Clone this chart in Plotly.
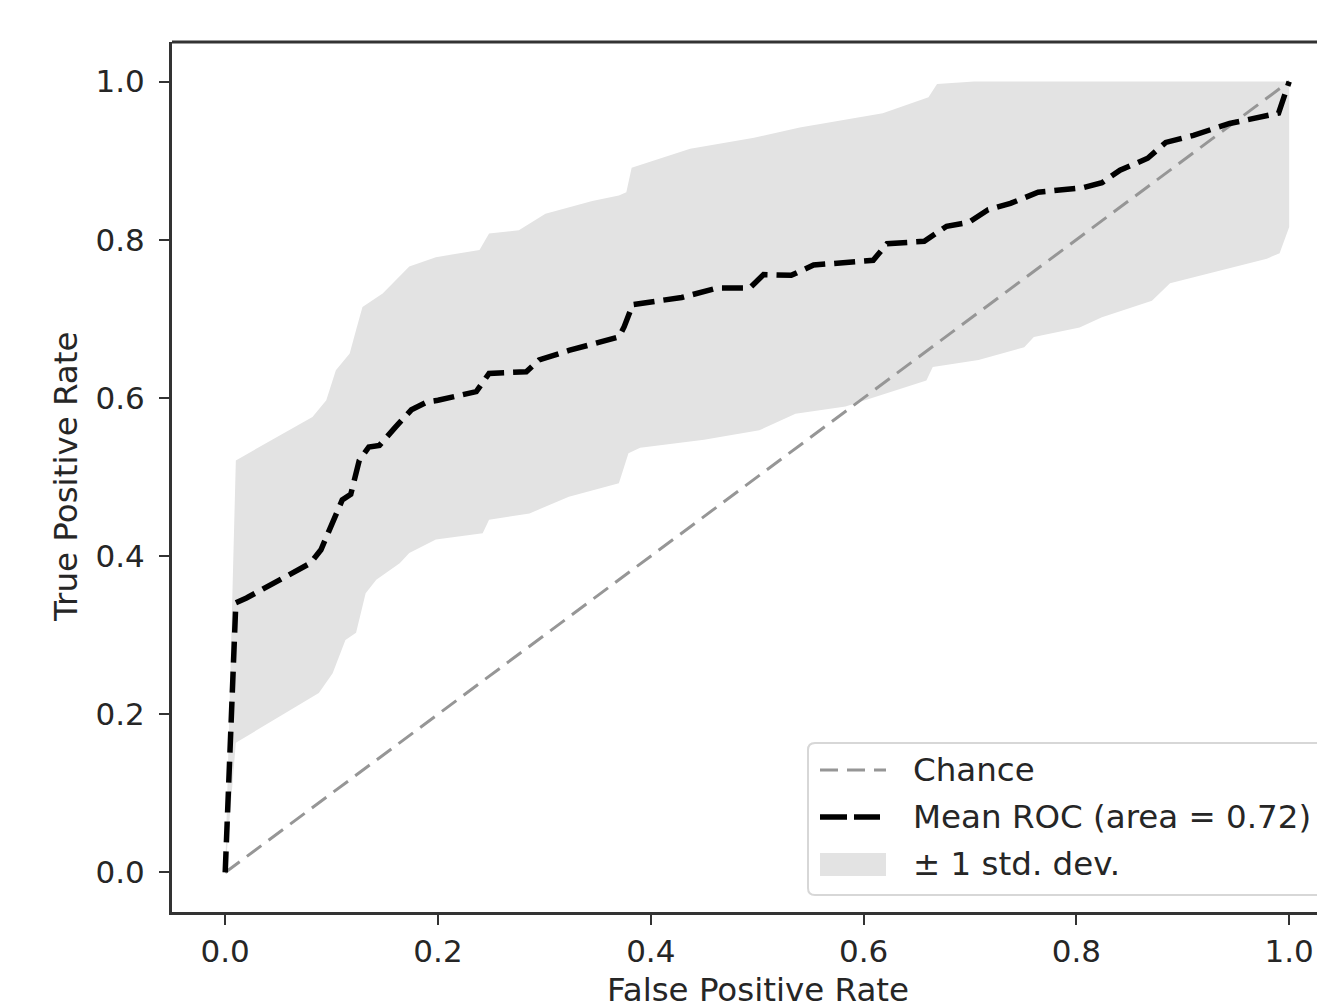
import plotly.graph_objects as go

# ---------------- data ----------------
mean_fpr = [0.0, 0.01, 0.02, 0.05, 0.08, 0.09, 0.10, 0.11, 0.118, 0.126, 0.135, 0.145,
            0.16, 0.175, 0.19, 0.20, 0.236, 0.248, 0.283, 0.295, 0.323, 0.355, 0.37,
            0.375, 0.383, 0.429, 0.463, 0.493, 0.506, 0.532, 0.553, 0.609, 0.622,
            0.657, 0.678, 0.699, 0.717, 0.738, 0.764, 0.807, 0.824, 0.841, 0.867,
            0.884, 0.910, 0.944, 0.990, 1.0]
mean_tpr = [0.0, 0.341, 0.347, 0.370, 0.391, 0.408, 0.440, 0.471, 0.478, 0.521, 0.538, 0.540,
            0.563, 0.585, 0.595, 0.597, 0.608, 0.631, 0.633, 0.648, 0.660, 0.671, 0.677,
            0.690, 0.718, 0.727, 0.739, 0.739, 0.756, 0.755, 0.768, 0.774, 0.795,
            0.798, 0.817, 0.822, 0.838, 0.846, 0.860, 0.866, 0.872, 0.888, 0.903,
            0.923, 0.932, 0.947, 0.960, 1.0]

upper_fpr = [0.0, 0.01, 0.082, 0.095, 0.104, 0.117, 0.123, 0.129, 0.148, 0.167, 0.173,
             0.198, 0.239, 0.248, 0.276, 0.301, 0.323, 0.345, 0.370, 0.377, 0.382,
             0.403, 0.437, 0.497, 0.540, 0.618, 0.661, 0.669, 0.704, 1.0]
upper_tpr = [0.0, 0.521, 0.576, 0.597, 0.635, 0.656, 0.686, 0.715, 0.732, 0.758, 0.766,
             0.778, 0.787, 0.808, 0.812, 0.833, 0.841, 0.849, 0.856, 0.860, 0.891,
             0.900, 0.915, 0.929, 0.942, 0.960, 0.980, 0.997, 1.0, 1.0]

lower_fpr = [0.0, 0.01, 0.088, 0.101, 0.113, 0.123, 0.132, 0.142, 0.164, 0.173, 0.198,
             0.242, 0.248, 0.286, 0.323, 0.370, 0.379, 0.390, 0.450, 0.502, 0.536,
             0.583, 0.622, 0.659, 0.665, 0.708, 0.751, 0.760, 0.803, 0.824, 0.871,
             0.888, 0.979, 0.991, 1.0, 1.0]
lower_tpr = [0.0, 0.164, 0.227, 0.252, 0.294, 0.303, 0.353, 0.370, 0.391, 0.404, 0.421,
             0.429, 0.446, 0.454, 0.475, 0.492, 0.530, 0.537, 0.547, 0.559, 0.580,
             0.589, 0.606, 0.622, 0.639, 0.648, 0.664, 0.677, 0.689, 0.702, 0.723,
             0.745, 0.776, 0.783, 0.816, 1.0]

chance_fpr = [0.0, 1.0]
chance_tpr = [0.0, 1.0]

tick_vals = [0.0, 0.2, 0.4, 0.6, 0.8, 1.0]
tick_text = ["0.0", "0.2", "0.4", "0.6", "0.8", "1.0"]

legend_labels = ["Chance", "Mean ROC (area = 0.72)", "± 1 std. dev."]
x_title = "False Positive Rate"
y_title = "True Positive Rate"

# ---------------- layout geometry ----------------
W, H = 1317, 1008
L, T, B, R = 172, 42, 96, 0
PW = W - L - R
PH = H - T - B
FONT = "DejaVu Sans"
FS_TICK = 31
FS = 32.5
TXT = "#262626"
BAND = "rgb(227,227,227)"
CHANCE = "rgb(150,150,150)"


def px_x(p):
    return (p - L) / PW


def px_y(p):
    return (H - B - p) / PH


# x range: 0 at px 226, 1 at px 1290
x_lo = -0.05
x_hi = x_lo + (W - R - L) / 1064.0

fig = go.Figure()

fig.add_trace(go.Scatter(
    x=upper_fpr + lower_fpr[::-1],
    y=upper_tpr + lower_tpr[::-1],
    mode="lines", fill="toself", fillcolor=BAND,
    line=dict(width=0, color=BAND), hoverinfo="skip",
    name=legend_labels[2], showlegend=False))

fig.add_trace(go.Scatter(
    x=chance_fpr, y=chance_tpr, mode="lines",
    line=dict(color=CHANCE, width=3, dash="18px,9px"),
    name=legend_labels[0], showlegend=False))

fig.add_trace(go.Scatter(
    x=mean_fpr, y=mean_tpr, mode="lines",
    line=dict(color="black", width=5.5, dash="21px,9px"),
    name=legend_labels[1], showlegend=False))

axis_common = dict(
    showgrid=False, zeroline=False, showline=True, linecolor="#333333",
    linewidth=3, ticks="outside", ticklen=10, tickwidth=2, tickcolor="#333333",
    tickfont=dict(family=FONT, size=FS_TICK, color=TXT),
    tickvals=tick_vals, ticktext=tick_text,
)

fig.update_layout(
    width=W, height=H,
    margin=dict(l=L, r=R, t=T, b=B, pad=0),
    paper_bgcolor="white", plot_bgcolor="white",
    showlegend=False,
    font=dict(family=FONT, size=FS, color=TXT),
    xaxis=dict(range=[x_lo, x_hi], **axis_common),
    yaxis=dict(range=[-0.05, 1.05], ticklabelstandoff=8, **axis_common),
)

shapes = []
# top spine
shapes.append(dict(type="line", xref="paper", yref="paper", x0=0, x1=1.05, y0=1, y1=1,
                   line=dict(color="#333333", width=3)))

# legend box (rounded left corners; right side runs off the canvas)
bx0, bx1, by0, by1 = px_x(808), px_x(1340), px_y(895), px_y(743)
rx, ry = 7 / PW, 7 / PH
path = (f"M {bx0 + rx},{by1} L {bx1},{by1} L {bx1},{by0} L {bx0 + rx},{by0} "
        f"Q {bx0},{by0} {bx0},{by0 + ry} L {bx0},{by1 - ry} Q {bx0},{by1} {bx0 + rx},{by1} Z")
shapes.append(dict(type="path", xref="paper", yref="paper", path=path,
                   fillcolor="rgba(255,255,255,0.8)",
                   line=dict(color="rgb(215,215,215)", width=2)))

row_y = [770, 817, 864]
# legend handles
shapes.append(dict(type="line", xref="paper", yref="paper",
                   x0=px_x(820), x1=px_x(886), y0=px_y(row_y[0]), y1=px_y(row_y[0]),
                   line=dict(color=CHANCE, width=3, dash="18px,9px")))
shapes.append(dict(type="line", xref="paper", yref="paper",
                   x0=px_x(820), x1=px_x(880), y0=px_y(row_y[1]), y1=px_y(row_y[1]),
                   line=dict(color="black", width=5.5, dash="27px,7px")))
shapes.append(dict(type="rect", xref="paper", yref="paper",
                   x0=px_x(820), x1=px_x(886), y0=px_y(876), y1=px_y(853),
                   fillcolor=BAND, line=dict(width=0)))
fig.update_layout(shapes=shapes)

annotations = []
for lab, yy in zip(legend_labels, row_y):
    annotations.append(dict(text=lab, xref="paper", yref="paper", x=px_x(911), y=px_y(yy),
                            xanchor="left", yanchor="middle", showarrow=False,
                            font=dict(family=FONT, size=FS, color=TXT)))
annotations.append(dict(text=x_title, xref="paper", yref="paper", x=px_x(758), y=px_y(990),
                        xanchor="center", yanchor="middle", showarrow=False,
                        font=dict(family=FONT, size=FS, color=TXT)))
annotations.append(dict(text=y_title, xref="paper", yref="paper", x=px_x(66), y=px_y(477),
                        xanchor="center", yanchor="middle", showarrow=False, textangle=-90,
                        font=dict(family=FONT, size=FS, color=TXT)))
fig.update_layout(annotations=annotations)

fig.write_html(
    "out.html",
    config={"displayModeBar": False},
    post_script="document.body.style.margin='0';document.body.style.overflow='hidden';",
)
